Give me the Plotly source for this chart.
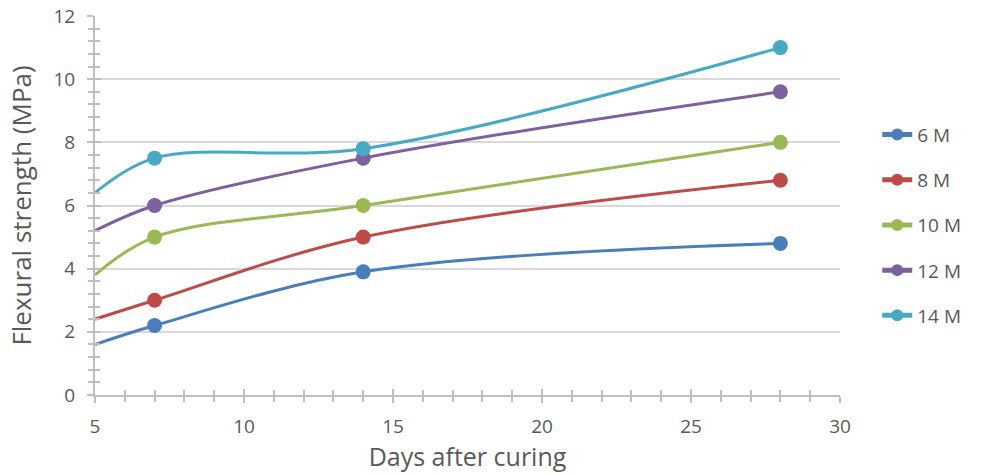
import plotly.graph_objects as go

# Curing age (days); the first point sits on the axis edge and carries no marker
days = [5, 7, 14, 28]

series_names = ["6 M", "8 M", "10 M", "12 M", "14 M"]
strength_6m = [1.6, 2.2, 3.9, 4.8]
strength_8m = [2.4, 3.0, 5.0, 6.8]
strength_10m = [3.8, 5.0, 6.0, 8.0]
strength_12m = [5.2, 6.0, 7.5, 9.6]
strength_14m = [6.4, 7.5, 7.8, 11.0]

colors = ["#4A7EBB", "#BE4B48", "#98B954", "#7D60A0", "#46AAC5"]
all_series = [strength_6m, strength_8m, strength_10m, strength_12m, strength_14m]

fig = go.Figure()
for name, vals, col in zip(series_names, all_series, colors):
    fig.add_trace(go.Scatter(
        x=days, y=vals, name=name, mode="lines+markers",
        line=dict(color=col, width=3, shape="spline", smoothing=1),
        marker=dict(color=col, size=[0, 15, 15, 15], opacity=1, line=dict(width=0)),
        legendgroup=name,
    ))

# empty trace on overlay axes so the inner half of the crossing ticks is drawn
fig.add_trace(go.Scatter(x=[None], y=[None], xaxis="x2", yaxis="y2",
                         showlegend=False, hoverinfo="skip"))

text_col = "#595959"
axis_col = "#BFBFBF"
font_family = "Open Sans, Liberation Sans, sans-serif"

tick_common = dict(tickcolor=axis_col, tickwidth=2, ticklen=6)
minor_common = dict(ticklen=5, tickwidth=1.5, tickcolor=axis_col, showgrid=False)

fig.update_layout(
    width=981, height=474,
    margin=dict(l=95, r=141, t=16, b=79, autoexpand=False),
    paper_bgcolor="white", plot_bgcolor="white",
    font=dict(family=font_family, color=text_col, size=19),
    legend=dict(x=1.05, y=0.737, xanchor="left", yanchor="top",
                font=dict(size=19, color=text_col),
                tracegroupgap=17.5, itemsizing="constant"),
    showlegend=True,
    xaxis=dict(
        range=[5, 30], dtick=5, tick0=5,
        showgrid=False, zeroline=False,
        showline=True, linecolor=axis_col, linewidth=2,
        ticks="outside", **tick_common,
        minor=dict(dtick=1, ticks="outside", **minor_common),
        ticklabelstandoff=7,
        tickfont=dict(size=19, color=text_col),
        title=dict(text="Days after curing", font=dict(size=25, color=text_col), standoff=4),
    ),
    yaxis=dict(
        range=[0, 12], dtick=2,
        showgrid=True, gridcolor="#D9D9D9", gridwidth=1.5, zeroline=False,
        showline=True, linecolor=axis_col, linewidth=2,
        ticks="outside", **tick_common,
        minor=dict(dtick=0.4, ticks="outside", **minor_common),
        ticklabelstandoff=8,
        tickfont=dict(size=19, color=text_col),
        title=dict(text="Flexural strength (MPa)", font=dict(size=26, color=text_col), standoff=14),
    ),
    xaxis2=dict(
        overlaying="x", anchor="y2", side="bottom", range=[5, 30], dtick=5, tick0=5,
        showgrid=False, zeroline=False, showline=False, showticklabels=False,
        ticks="inside", **tick_common,
        minor=dict(dtick=1, ticks="inside", **minor_common),
    ),
    yaxis2=dict(
        overlaying="y", anchor="x2", side="left", range=[0, 12], dtick=2,
        showgrid=False, zeroline=False, showline=False, showticklabels=False,
        ticks="inside", **tick_common,
        minor=dict(dtick=0.4, ticks="inside", **minor_common),
    ),
)

fig.write_html("out.html")
